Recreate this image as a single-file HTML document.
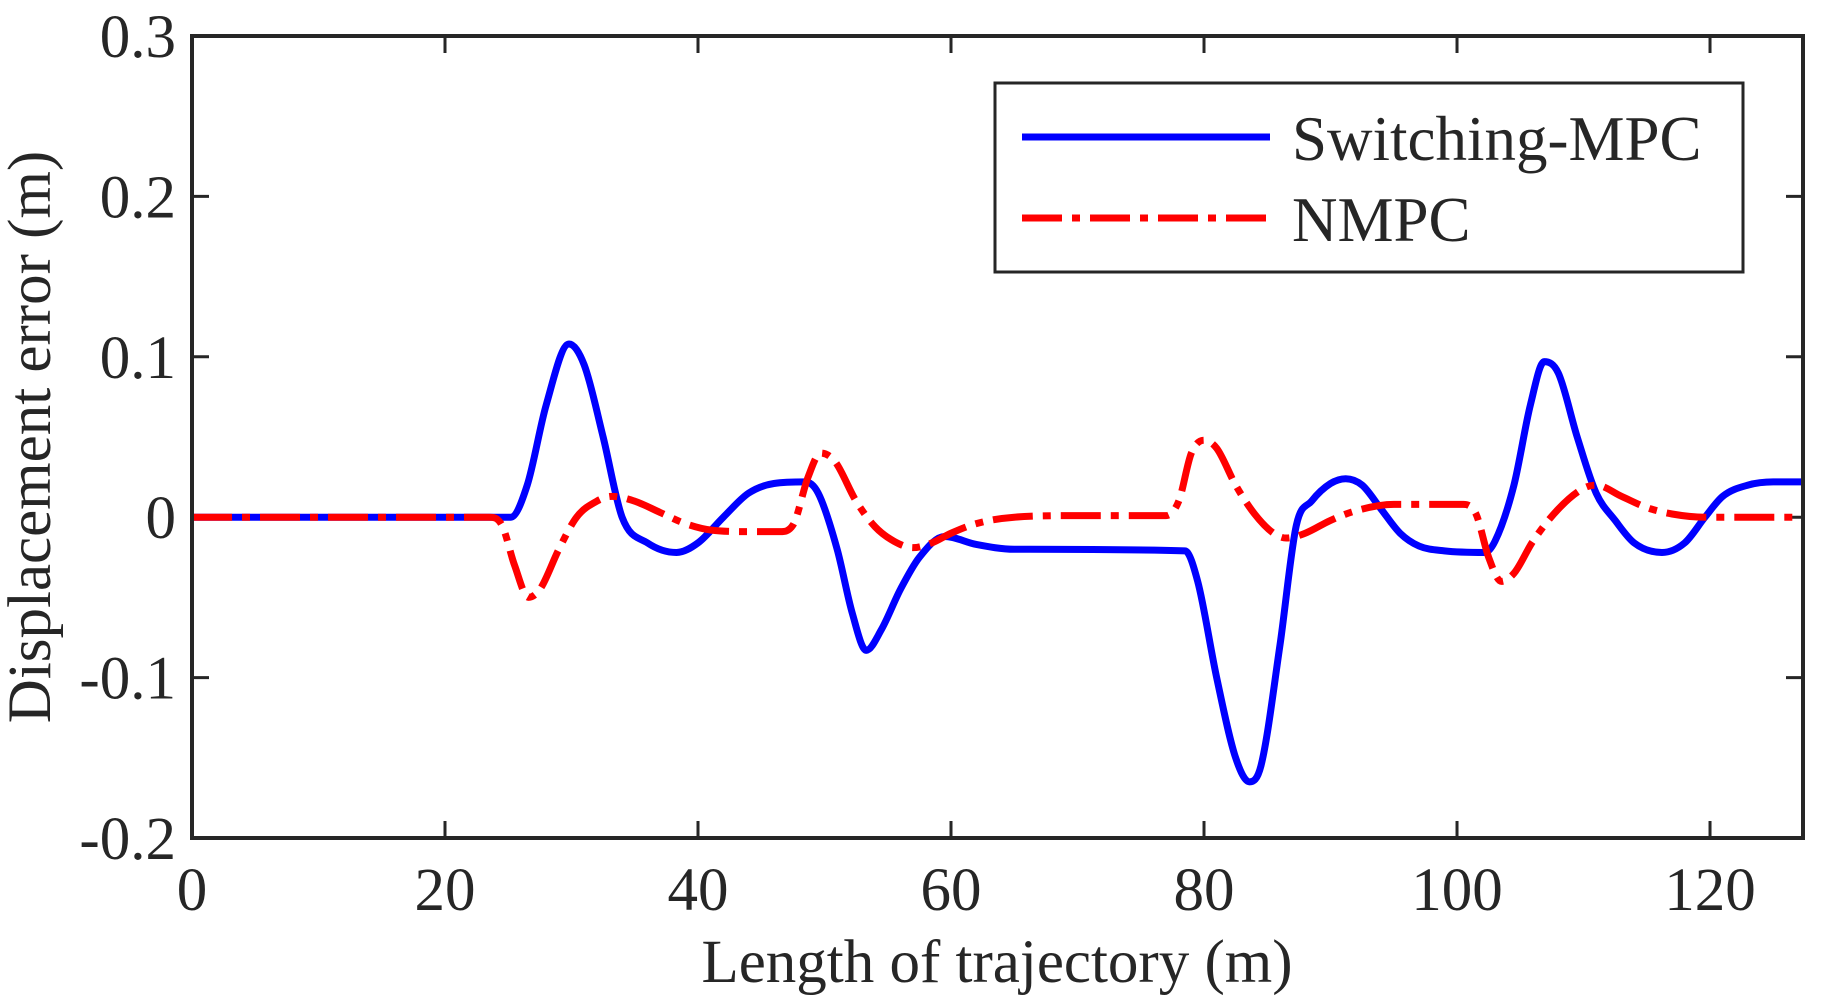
<!DOCTYPE html>
<html><head><meta charset="utf-8"><style>
html,body{margin:0;padding:0;background:#fff;}
svg{display:block;}
text{font-family:"Liberation Serif",serif;fill:#262626;}
</style></head><body>
<svg id="chart" width="1823" height="998" viewBox="0 0 1823 998" xmlns="http://www.w3.org/2000/svg">
<defs><clipPath id="clip"><rect x="192" y="36" width="1611" height="802"/></clipPath></defs>
<g id="ticks"></g>
<g id="series" clip-path="url(#clip)"></g>
<rect x="192" y="36" width="1611" height="802" fill="none" stroke="#262626" stroke-width="4"/>
<text x="997" y="982" font-size="61" text-anchor="middle">Length of trajectory (m)</text>
<text transform="translate(50,437) rotate(-90)" font-size="61" text-anchor="middle">Displacement error (m)</text>
<g>
<rect x="995" y="83" width="748" height="189" fill="#fff" stroke="#262626" stroke-width="3"/>
<line x1="1022" y1="137" x2="1270" y2="137" stroke="#0000ff" stroke-width="7"/>
<text x="1292" y="160" font-size="63">Switching-MPC</text>
<line x1="1022" y1="218" x2="1270" y2="218" stroke="#ff0000" stroke-width="7" stroke-dasharray="40 10 8 10"/>
<text x="1292" y="241" font-size="63">NMPC</text>
</g>
</svg>
<script>
const xTicks=[0,20,40,60,80,100,120];
const yTicks=[-0.2,-0.1,0,0.1,0.2,0.3];
const yTickLabels=["-0.2","-0.1","0","0.1","0.2","0.3"];
const blueX=[0,25.2,26.5,28,29.8,31,32.5,34,36,38.3,40,42,44,46,48.5,49.5,51,52.2,53.3,54.5,56,57.5,59.5,62,65,78.5,79.5,81,82.5,83.6,84.5,86,87.3,88.5,90,91.2,92.5,94,95.5,97,99,102.2,103,104.5,105.8,106.9,108,109.5,111,112.5,114,116.2,118,119.6,121,123,125,127.3];
const blueY=[0,0,0.02,0.07,0.108,0.095,0.05,0,-0.016,-0.022,-0.016,0,0.015,0.021,0.022,0.015,-0.02,-0.06,-0.083,-0.07,-0.045,-0.025,-0.012,-0.017,-0.02,-0.021,-0.04,-0.1,-0.15,-0.165,-0.155,-0.08,-0.005,0.01,0.021,0.024,0.02,0.005,-0.01,-0.018,-0.021,-0.022,-0.015,0.02,0.07,0.097,0.09,0.05,0.015,-0.002,-0.016,-0.022,-0.016,0,0.013,0.02,0.022,0.022];
const redX=[0,23.5,24.5,25.5,26.6,27.5,29,30.4,32,33.2,35,37,39,41,44,46.5,47.5,48.7,49.7,50.8,52.5,54,55.5,57,58.5,60,62,65,70,77,78,79,80,81,82.5,84,85.5,86.5,88,90,92,95,100.5,101.5,102.5,103.5,104.5,106,108,110,111,113,115,117,119.6,127.3];
const redY=[0,0,-0.005,-0.03,-0.05,-0.045,-0.02,0,0.01,0.013,0.01,0.003,-0.004,-0.008,-0.009,-0.009,-0.005,0.025,0.04,0.035,0.01,-0.006,-0.015,-0.019,-0.016,-0.01,-0.004,0,0.001,0.001,0.01,0.04,0.048,0.043,0.02,0.002,-0.01,-0.013,-0.01,-0.002,0.004,0.008,0.008,0.002,-0.025,-0.04,-0.035,-0.015,0.005,0.018,0.02,0.013,0.006,0.002,0,0];
const L=192,R=1803,T=36,B=838,XMAX=127.35;
function sx(v){return L+v/XMAX*(R-L);}
function sy(v){return B-(v+0.2)/0.5*(B-T);}
const NS="http://www.w3.org/2000/svg";
const tg=document.getElementById('ticks');
function mk(tag,attrs,parent){const e=document.createElementNS(NS,tag);for(const k in attrs)e.setAttribute(k,attrs[k]);parent.appendChild(e);return e;}
xTicks.forEach(v=>{const x=sx(v);
 const a=mk('line',{x1:x,y1:B,x2:x,y2:B-17,stroke:'#262626','stroke-width':3},tg);
 
 
 const b=mk('line',{x1:x,y1:T,x2:x,y2:T+17,stroke:'#262626','stroke-width':3},tg);
 
 
 const t=mk('text',{x:x,y:910,'font-size':61,'text-anchor':'middle'},tg);t.textContent=String(v);
 
 
});
yTicks.forEach((v,i)=>{const y=sy(v);
 const a=mk('line',{x1:L,y1:y,x2:L+17,y2:y,stroke:'#262626','stroke-width':3},tg);
 
 
 const b=mk('line',{x1:R,y1:y,x2:R-17,y2:y,stroke:'#262626','stroke-width':3},tg);
 
 
 const t=mk('text',{x:176,y:y+21,'font-size':61,'text-anchor':'end'},tg);t.textContent=yTickLabels[i];
 
 
});
function monoPath(xs,ys){
 const n=xs.length,px=xs.map(sx),py=ys.map(sy);
 const d=[],m=[];
 for(let i=0;i<n-1;i++)d.push((py[i+1]-py[i])/(px[i+1]-px[i]));
 m[0]=d[0];m[n-1]=d[n-2];
 for(let i=1;i<n-1;i++){m[i]=(d[i-1]*d[i]<=0)?0:(d[i-1]+d[i])/2;}
 for(let i=0;i<n-1;i++){if(d[i]===0){m[i]=0;m[i+1]=0;continue;}const a=m[i]/d[i],b=m[i+1]/d[i],s=a*a+b*b;if(s>9){const t=3/Math.sqrt(s);m[i]=t*a*d[i];m[i+1]=t*b*d[i];}}
 let p='M'+px[0]+','+py[0];
 for(let i=0;i<n-1;i++){const h=(px[i+1]-px[i])/3;p+=' C'+(px[i]+h)+','+(py[i]+m[i]*h)+' '+(px[i+1]-h)+','+(py[i+1]-m[i+1]*h)+' '+px[i+1]+','+py[i+1];}
 return p;}
const sg=document.getElementById('series');
const bl=mk('path',{d:monoPath(blueX,blueY),fill:'none',stroke:'#0000ff','stroke-width':7,'stroke-linejoin':'round'},sg);


const rl=mk('path',{d:monoPath(redX,redY),fill:'none',stroke:'#ff0000','stroke-width':7,'stroke-dasharray':'40 10 8 10'},sg);


</script>
</body></html>
